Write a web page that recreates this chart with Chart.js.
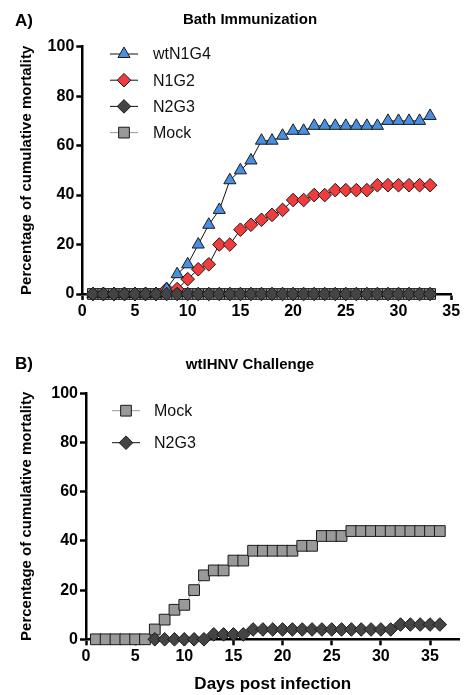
<!DOCTYPE html>
<html>
<head>
<meta charset="utf-8">
<script src="https://cdn.jsdelivr.net/npm/chart.js@4/dist/chart.umd.min.js"></script>
<style>
  body { margin: 0; background: #fff; }
  #wrap { position: relative; width: 469px; height: 695px; }
  #chartA { position: absolute; left: 0; top: 0; }
  #chartB { position: absolute; left: 0; top: 345px; }
</style>
</head>
<body>
<div id="wrap">
  <canvas id="chartA" width="469" height="345"></canvas>
  <canvas id="chartB" width="469" height="350"></canvas>
</div>
<script>
// ===== DADOS =====
// Painel A - Bath Immunization
const daysA = [1, 2, 3, 4, 5, 6, 7, 8, 9, 10, 11, 12, 13, 14, 15, 16, 17, 18, 19, 20,
               21, 22, 23, 24, 25, 26, 27, 28, 29, 30, 31, 32, 33];
const wtN1G4A = [0, 0, 0, 0, 0, 0, 0, 2, 8, 12, 20, 28, 34, 46, 50, 54, 62, 62, 64, 66,
                 66, 68, 68, 68, 68, 68, 68, 68, 70, 70, 70, 70, 72];
const n1g2A = [0, 0, 0, 0, 0, 0, 0, 2, 2, 6, 10, 12, 20, 20, 26, 28, 30, 32, 34, 38,
               38, 40, 40, 42, 42, 42, 42, 44, 44, 44, 44, 44, 44];
const n2g3A = [0, 0, 0, 0, 0, 0, 0, 0, 0, 0, 0, 0, 0, 0, 0, 0, 0, 0, 0, 0,
               0, 0, 0, 0, 0, 0, 0, 0, 0, 0, 0, 0, 0];
const mockA = [0, 0, 0, 0, 0, 0, 0, 0, 0, 0, 0, 0, 0, 0, 0, 0, 0, 0, 0, 0,
               0, 0, 0, 0, 0, 0, 0, 0, 0, 0, 0, 0, 0];

// Painel B - wtIHNV Challenge
const daysB = [1, 2, 3, 4, 5, 6, 7, 8, 9, 10, 11, 12, 13, 14, 15, 16, 17, 18, 19, 20,
               21, 22, 23, 24, 25, 26, 27, 28, 29, 30, 31, 32, 33, 34, 35, 36];
const mockB = [0, 0, 0, 0, 0, 0, 4, 8, 12, 14, 20, 26, 28, 28, 32, 32, 36, 36, 36, 36,
               36, 38, 38, 42, 42, 42, 44, 44, 44, 44, 44, 44, 44, 44, 44, 44];
const n2g3B = [null, null, null, null, null, null, 0, 0, 0, 0, 0, 0, 2, 2, 2, 2, 4, 4, 4, 4,
               4, 4, 4, 4, 4, 4, 4, 4, 4, 4, 4, 6, 6, 6, 6, 6];

const xTicks = [0, 5, 10, 15, 20, 25, 30, 35];
const yTicks = [0, 20, 40, 60, 80, 100];

// ===== ESTILOS =====
const FONT = "'Liberation Sans', Arial, sans-serif";
const styles = {
  wtN1G4: { pointStyle: 'triangle', radius: 7,   fill: '#4a90e2', line: '#111' },
  N1G2:   { pointStyle: 'rectRot',  radius: 6.8, fill: '#f03c3c', line: '#111' },
  N2G3:   { pointStyle: 'rectRot',  radius: 6.8, fill: '#444444', line: '#111' },
  Mock:   { pointStyle: 'rect',     radius: 7.6, fill: '#999999', line: '#999' }
};

function toXY(days, vals) {
  return days.map((d, i) => ({ x: d, y: vals[i] }));
}

function makeDataset(label, days, vals, order) {
  const st = styles[label];
  return {
    label: label,
    data: toXY(days, vals),
    order: order,
    borderColor: st.line,
    borderWidth: 1,
    pointStyle: st.pointStyle,
    pointRadius: st.radius,
    pointHoverRadius: st.radius,
    pointBackgroundColor: st.fill,
    pointBorderColor: '#1a1a1a',
    pointBorderWidth: 1,
    spanGaps: false,
    clip: false,
    tension: 0
  };
}

// Desenha um marcador da legenda
function drawMarker(ctx, st, x, y) {
  const r = st.radius;
  ctx.beginPath();
  if (st.pointStyle === 'triangle') {
    ctx.moveTo(x, y - r);
    ctx.lineTo(x + r * 0.866, y + r / 2);
    ctx.lineTo(x - r * 0.866, y + r / 2);
  } else if (st.pointStyle === 'rectRot') {
    ctx.moveTo(x - r, y);
    ctx.lineTo(x, y - r);
    ctx.lineTo(x + r, y);
    ctx.lineTo(x, y + r);
  } else {
    const h = r * Math.SQRT1_2;
    ctx.rect(x - h, y - h, 2 * h, 2 * h);
  }
  ctx.closePath();
  ctx.fillStyle = st.fill;
  ctx.fill();
  ctx.lineWidth = 1;
  ctx.strokeStyle = '#1a1a1a';
  ctx.stroke();
}

// Plugin: rótulo do painel, título e legenda com linha + marcador
const panelDecor = {
  id: 'panelDecor',
  afterDraw(chart, args, opts) {
    const ctx = chart.ctx;
    ctx.save();
    ctx.fillStyle = '#000';
    ctx.textBaseline = 'middle';
    ctx.textAlign = 'left';
    ctx.font = 'bold 17px ' + FONT;
    ctx.fillText(opts.panel, 15, opts.panelY);
    ctx.textAlign = 'center';
    ctx.font = 'bold 15px ' + FONT;
    ctx.fillText(opts.title, opts.titleX, opts.titleY);

    const lg = opts.legend;
    lg.items.forEach((name, i) => {
      const st = styles[name];
      const y = lg.y0 + i * lg.dy;
      ctx.beginPath();
      ctx.moveTo(lg.x1, y);
      ctx.lineTo(lg.x2, y);
      ctx.lineWidth = 1;
      ctx.strokeStyle = st.line;
      ctx.stroke();
      drawMarker(ctx, st, (lg.x1 + lg.x2) / 2, y);
      ctx.fillStyle = '#111';
      ctx.textAlign = 'left';
      ctx.font = '16px ' + FONT;
      ctx.fillText(name, lg.textX, y + 1);
    });
    ctx.restore();
  }
};

function makeScales(xMax, xHeight, yWidth, xTitle) {
  return {
    x: {
      type: 'linear', min: 0, max: xMax,
      afterBuildTicks: s => { s.ticks = xTicks.map(v => ({ value: v })); },
      afterFit: s => { s.height = xHeight; },
      border: { display: true, color: '#000', width: 2.5 },
      grid: { drawOnChartArea: false, tickLength: 6, tickWidth: 2.5, tickColor: '#000' },
      ticks: { color: '#000', font: { family: FONT, size: 16, weight: 'bold' },
               padding: 2, maxRotation: 0, autoSkip: false },
      title: { display: !!xTitle, text: xTitle || '', color: '#000',
               font: { family: FONT, size: 17, weight: 'bold' }, padding: { top: 0, bottom: 0 } }
    },
    y: {
      min: 0, max: 100,
      afterBuildTicks: s => { s.ticks = yTicks.map(v => ({ value: v })); },
      afterFit: s => { s.width = yWidth; },
      border: { display: true, color: '#000', width: 2.5 },
      grid: { drawOnChartArea: false, tickLength: 6, tickWidth: 2.5, tickColor: '#000' },
      ticks: { color: '#000', font: { family: FONT, size: 16, weight: 'bold' }, padding: 2 },
      title: { display: true, text: 'Percentage of cumulative mortality', color: '#000',
               font: { family: FONT, size: 15, weight: 'bold' }, padding: { top: 18, bottom: 0 } }
    }
  };
}

Chart.defaults.font.family = FONT;

// ===== GRÁFICO A =====
new Chart(document.getElementById('chartA'), {
  type: 'line',
  data: {
    datasets: [
      makeDataset('wtN1G4', daysA, wtN1G4A, 1),
      makeDataset('N1G2', daysA, n1g2A, 2),
      makeDataset('N2G3', daysA, n2g3A, 0),
      makeDataset('Mock', daysA, mockA, 3)
    ]
  },
  options: {
    responsive: false,
    animation: false,
    devicePixelRatio: 1,
    layout: { padding: { top: 46.7, right: 17.8, left: 0, bottom: 0 } },
    scales: makeScales(35, 51, 82.3, ''),
    plugins: {
      legend: { display: false },
      tooltip: { enabled: false },
      panelDecor: {
        panel: 'A)', panelY: 21, title: 'Bath Immunization', titleX: 250, titleY: 20,
        legend: { items: ['wtN1G4', 'N1G2', 'N2G3', 'Mock'], x1: 110, x2: 138, textX: 153, y0: 54, dy: 26.2 }
      }
    }
  },
  plugins: [panelDecor]
});

// ===== GRÁFICO B =====
new Chart(document.getElementById('chartB'), {
  type: 'line',
  data: {
    datasets: [
      makeDataset('Mock', daysB, mockB, 1),
      makeDataset('N2G3', daysB, n2g3B, 0)
    ]
  },
  options: {
    responsive: false,
    animation: false,
    devicePixelRatio: 1,
    layout: { padding: { top: 48.3, right: 9.5, left: 0, bottom: 0 } },
    scales: makeScales(38, 55.7, 86, 'Days post infection'),
    plugins: {
      legend: { display: false },
      tooltip: { enabled: false },
      panelDecor: {
        panel: 'B)', panelY: 19, title: 'wtIHNV Challenge', titleX: 250, titleY: 20,
        legend: { items: ['Mock', 'N2G3'], x1: 112, x2: 140, textX: 154, y0: 65.7, dy: 32 }
      }
    }
  },
  plugins: [panelDecor]
});
</script>
</body>
</html>
